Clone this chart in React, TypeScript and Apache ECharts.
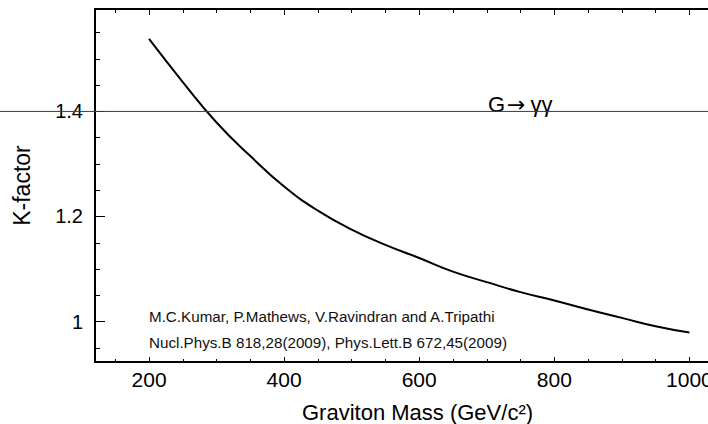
import React, { useEffect, useRef } from "react";
import * as echarts from "echarts";

const massValues = [200, 250, 300, 350, 400, 450, 500, 550, 600, 650, 700, 750, 800, 850, 900, 950, 1000];
const kFactorValues = [1.538, 1.456, 1.379, 1.315, 1.257, 1.211, 1.175, 1.146, 1.121, 1.095, 1.075, 1.056, 1.040, 1.023, 1.007, 0.991, 0.979];
const xMajorTicks = [200, 400, 600, 800, 1000];
const xMinorTicks = [150, 250, 300, 350, 450, 500, 550, 650, 700, 750, 850, 900, 950];
const yMajorTicks = [1, 1.2, 1.4];
const yMinorTicks = [0.95, 1.05, 1.1, 1.15, 1.25, 1.3, 1.35, 1.45, 1.5, 1.55];
const refLineValue = 1.4;
const citationLines = [
  "M.C.Kumar, P.Mathews, V.Ravindran and A.Tripathi",
  "Nucl.Phys.B 818,28(2009), Phys.Lett.B 672,45(2009)",
];

const FONT = "'Liberation Sans', Arial, Helvetica, sans-serif";

export default function App() {
  const ref = useRef<HTMLDivElement>(null);
  useEffect(() => {
    if (!ref.current) return;
    const chart = echarts.init(ref.current, undefined, { renderer: "svg" });
    const bx = () => ({ type: "value", min: 120, max: 1032, splitLine: { show: false } });
    const by = () => ({ type: "value", min: 0.923, max: 1.595, splitLine: { show: false } });
    const line = () => ({ show: true, lineStyle: { color: "#000", width: 2 } });
    const tick = (len: number, vals: number[]) => ({
      show: true,
      inside: true,
      length: len,
      customValues: vals.slice(),
      lineStyle: { color: "#000", width: 1 },
    });
    const fmt = (v: number) => String(Math.round(v * 100) / 100);
    const option: any = {
      animation: false,
      grid: { left: 95, top: 9, right: -3, bottom: 62, outerBoundsMode: "none" },
      xAxis: [
        {
          ...bx(),
          position: "bottom",
          axisLine: line(),
          axisTick: tick(5, xMajorTicks),
          axisLabel: { show: true, customValues: xMajorTicks.slice(), fontSize: 21, color: "#000", margin: 7, fontFamily: FONT, formatter: fmt },
          name: "Graviton Mass (GeV/c\u00b2)",
          nameLocation: "middle",
          nameGap: 39,
          nameTextStyle: { fontSize: 22, color: "#000", fontFamily: FONT, padding: [0, 0, 0, 29] },
        },
        { ...bx(), position: "bottom", axisLine: { show: false }, axisTick: tick(3, xMinorTicks), axisLabel: { show: false } },
        { ...bx(), position: "top", axisLine: line(), axisTick: tick(6, xMajorTicks), axisLabel: { show: false } },
        { ...bx(), position: "top", axisLine: { show: false }, axisTick: tick(4, xMinorTicks), axisLabel: { show: false } },
      ],
      yAxis: [
        {
          ...by(),
          position: "left",
          axisLine: line(),
          axisTick: tick(10, yMajorTicks),
          axisLabel: { show: true, customValues: yMajorTicks.slice(), fontSize: 20, color: "#000", margin: 12, fontFamily: FONT, formatter: fmt },
          name: "K-factor",
          nameLocation: "middle",
          nameGap: 62,
          nameRotate: 90,
          nameTextStyle: { fontSize: 23, color: "#000", fontFamily: FONT },
        },
        { ...by(), position: "left", offset: 0, axisLine: { show: false }, axisTick: tick(5, yMinorTicks), axisLabel: { show: false } },
      ],
      series: [
        {
          type: "line",
          xAxisIndex: 0,
          yAxisIndex: 0,
          data: massValues.map((m, i) => [m, kFactorValues[i]]),
          smooth: true,
          symbol: "none",
          lineStyle: { color: "#000", width: 2 },
          z: 3,
        },
        {
          type: "custom",
          xAxisIndex: 0,
          yAxisIndex: 0,
          clip: false,
          silent: true,
          z: 10,
          data: [[massValues[0], refLineValue]],
          renderItem: (params: any, api: any) => {
            const p = api.coord([api.value(0), api.value(1)]);
            return {
              type: "line",
              shape: { x1: 0, y1: p[1], x2: api.getWidth(), y2: p[1] },
              style: { stroke: "#1f3c7e", lineWidth: 1 },
            };
          },
        },
      ],
      graphic: [
        {
          type: "text",
          x: 488,
          y: 104,
          z: 5,
          style: {
            text: "{g|G}{a|\u2192}{g|\u03b3\u03b3}",
            fill: "#000",
            verticalAlign: "middle",
            align: "left",
            rich: {
              g: { fontSize: 22, fontFamily: FONT, fill: "#000" },
              a: { fontSize: 22, fontFamily: "'DejaVu Sans', sans-serif", fill: "#000", padding: [0, 5, 0, 2] },
            },
          },
        },
        {
          type: "text",
          x: 149,
          y: 316,
          z: 5,
          style: { text: citationLines[0], fontSize: 15.2, fill: "#111", fontFamily: FONT, verticalAlign: "middle", align: "left" },
        },
        {
          type: "text",
          x: 149,
          y: 342.5,
          z: 5,
          style: { text: citationLines[1], fontSize: 15.2, fill: "#111", fontFamily: FONT, verticalAlign: "middle", align: "left" },
        },
      ],
    };
    chart.setOption(option);
    return () => chart.dispose();
  }, []);
  return <div ref={ref} style={{ position: "absolute", left: 0, top: 0, width: 708, height: 424 }} />;
}
